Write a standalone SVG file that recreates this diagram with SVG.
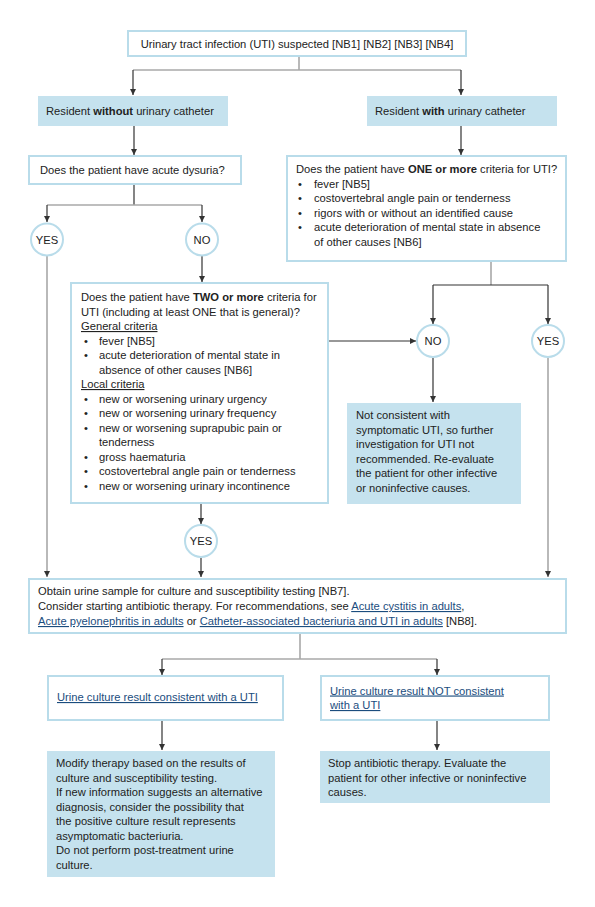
<svg xmlns="http://www.w3.org/2000/svg" width="595" height="907" viewBox="0 0 595 907">
<defs>
<marker id="ah" markerWidth="6" markerHeight="6" refX="6" refY="3" orient="auto" markerUnits="userSpaceOnUse">
<path d="M0,0 L6,3 L0,6 z" fill="#333"/>
</marker>
<style>
text{font-family:"Liberation Sans",Arial,sans-serif;font-size:11.2px;fill:#222}
.b{font-weight:bold}
.box{fill:#fff;stroke:#b9dcea;stroke-width:2}
.fill{fill:#c5e2ee}
.circ{fill:#fff;stroke:#b9dcea;stroke-width:2}
.c{stroke:#333;stroke-width:1.2;fill:none}
.g{stroke:#a8a8a8;stroke-width:1.6;fill:none}
.a{marker-end:url(#ah)}
.lk{fill:#1b4d7e;text-decoration:underline}
.m{text-anchor:middle}
</style>
</defs>
<rect width="595" height="907" fill="#fff"/>
<g id="connectors">
<path class="g" d="M299,56 V70"/>
<path class="g" d="M133,70 H461"/>
<path class="c a" d="M133,70 V95"/>
<path class="c a" d="M461,70 V95"/>
<path class="c a" d="M134,126 V155"/>
<path class="c a" d="M461,126 V155"/>
<path class="c" d="M134,184 V205"/>
<path class="g" d="M47,205 H202"/>
<path class="c a" d="M47,205 V222"/>
<path class="c a" d="M202,205 V222"/>
<path class="c a" d="M202,256 V282"/>
<path class="g" d="M491,261 V285"/>
<path class="c" d="M433,285 H548"/>
<path class="c a" d="M433,285 V324"/>
<path class="c a" d="M548,285 V324"/>
<path class="c a" d="M329,341 H416"/>
<path class="c a" d="M433,358 V402"/>
<path class="g a" d="M548,358 V577"/>
<path class="g a" d="M47,256 V577"/>
<path class="c a" d="M201,503 V524"/>
<path class="c a" d="M201,558 V577"/>
<path class="g" d="M300,633 V659"/>
<path class="g" d="M162,659 H437"/>
<path class="c a" d="M162,659 V675"/>
<path class="c a" d="M437,659 V675"/>
<path class="c a" d="M162,720 V750"/>
<path class="c a" d="M437,720 V750"/>
</g>
<g id="n-start">
<rect class="box" x="128" y="31" width="338" height="25"/>
<text class="m" x="297" y="47.5">Urinary tract infection (UTI) suspected [NB1] [NB2] [NB3] [NB4]</text>
</g>
<g id="n-without">
<rect class="fill" x="38" y="96" width="190" height="30"/>
<text x="46" y="114.5">Resident <tspan class="b">without</tspan> urinary catheter</text>
</g>
<g id="n-with">
<rect class="fill" x="367" y="96" width="190" height="30"/>
<text x="375" y="114.5">Resident <tspan class="b">with</tspan> urinary catheter</text>
</g>
<g id="n-dysuria">
<rect class="box" x="29" y="156" width="212" height="28"/>
<text x="40" y="174">Does the patient have acute dysuria?</text>
</g>
<g id="n-yes1">
<circle class="circ" cx="47" cy="239.5" r="16"/>
<text class="m" x="47" y="243.5">YES</text>
</g>
<g id="n-no1">
<circle class="circ" cx="202" cy="239.5" r="16"/>
<text class="m" x="202" y="243.5">NO</text>
</g>
<g id="n-one">
<rect class="box" x="287" y="156" width="279" height="105"/>
<text x="296" y="173">Does the patient have <tspan class="b">ONE or more</tspan> criteria for UTI?</text>
<text x="298" y="187.5">•</text><text x="314" y="187.5">fever [NB5]</text>
<text x="298" y="202">•</text><text x="314" y="202">costovertebral angle pain or tenderness</text>
<text x="298" y="216.5">•</text><text x="314" y="216.5">rigors with or without an identified cause</text>
<text x="298" y="231">•</text><text x="314" y="231">acute deterioration of mental state in absence</text>
<text x="314" y="245.5">of other causes [NB6]</text>
</g>
<g id="n-two">
<rect class="box" x="71" y="283" width="257" height="220"/>
<text x="81" y="301">Does the patient have <tspan class="b">TWO or more</tspan> criteria for</text>
<text x="81" y="315.5">UTI (including at least ONE that is general)?</text>
<text x="81" y="330" text-decoration="underline">General criteria</text>
<text x="84" y="344.5">•</text><text x="99" y="344.5">fever [NB5]</text>
<text x="84" y="359">•</text><text x="99" y="359">acute deterioration of mental state in</text>
<text x="99" y="373.5">absence of other causes [NB6]</text>
<text x="81" y="388" text-decoration="underline">Local criteria</text>
<text x="84" y="402.5">•</text><text x="99" y="402.5">new or worsening urinary urgency</text>
<text x="84" y="417">•</text><text x="99" y="417">new or worsening urinary frequency</text>
<text x="84" y="431.5">•</text><text x="99" y="431.5">new or worsening suprapubic pain or</text>
<text x="99" y="446">tenderness</text>
<text x="84" y="460.5">•</text><text x="99" y="460.5">gross haematuria</text>
<text x="84" y="475">•</text><text x="99" y="475">costovertebral angle pain or tenderness</text>
<text x="84" y="489.5">•</text><text x="99" y="489.5">new or worsening urinary incontinence</text>
</g>
<g id="n-no2">
<circle class="circ" cx="433" cy="341" r="16"/>
<text class="m" x="433" y="345">NO</text>
</g>
<g id="n-yes2">
<circle class="circ" cx="548" cy="341" r="16"/>
<text class="m" x="548" y="345">YES</text>
</g>
<g id="n-notcons">
<rect class="fill" x="347" y="403" width="174" height="101"/>
<text x="356" y="419">Not consistent with</text>
<text x="356" y="433.5">symptomatic UTI, so further</text>
<text x="356" y="448">investigation for UTI not</text>
<text x="356" y="462.5">recommended. Re-evaluate</text>
<text x="356" y="477">the patient for other infective</text>
<text x="356" y="491.5">or noninfective causes.</text>
</g>
<g id="n-yes3">
<circle class="circ" cx="201" cy="541" r="16"/>
<text class="m" x="201" y="545">YES</text>
</g>
<g id="n-obtain">
<rect class="box" x="29" y="579" width="537" height="54"/>
<text x="38" y="595">Obtain urine sample for culture and susceptibility testing [NB7].</text>
<text x="38" y="610">Consider starting antibiotic therapy. For recommendations, see <tspan class="lk">Acute cystitis in adults</tspan>,</text>
<text x="38" y="625"><tspan class="lk">Acute pyelonephritis in adults</tspan> or <tspan class="lk">Catheter-associated bacteriuria and UTI in adults</tspan> [NB8].</text>
</g>
<g id="n-cons">
<rect class="box" x="48" y="676" width="235" height="44"/>
<text class="lk" x="57" y="701">Urine culture result consistent with a UTI</text>
</g>
<g id="n-notconsculture">
<rect class="box" x="321" y="676" width="228" height="44"/>
<text class="lk" x="330" y="694.5">Urine culture result NOT consistent</text>
<text class="lk" x="330" y="709">with a UTI</text>
</g>
<g id="n-modify">
<rect class="fill" x="47" y="751" width="228" height="126"/>
<text x="56" y="767">Modify therapy based on the results of</text>
<text x="56" y="781.5">culture and susceptibility testing.</text>
<text x="56" y="796">If new information suggests an alternative</text>
<text x="56" y="810.5">diagnosis, consider the possibility that</text>
<text x="56" y="825">the positive culture result represents</text>
<text x="56" y="839.5">asymptomatic bacteriuria.</text>
<text x="56" y="854">Do not perform post-treatment urine</text>
<text x="56" y="868.5">culture.</text>
</g>
<g id="n-stop">
<rect class="fill" x="320" y="751" width="230" height="52"/>
<text x="328" y="767">Stop antibiotic therapy. Evaluate the</text>
<text x="328" y="781.5">patient for other infective or noninfective</text>
<text x="328" y="796">causes.</text>
</g>
</svg>
